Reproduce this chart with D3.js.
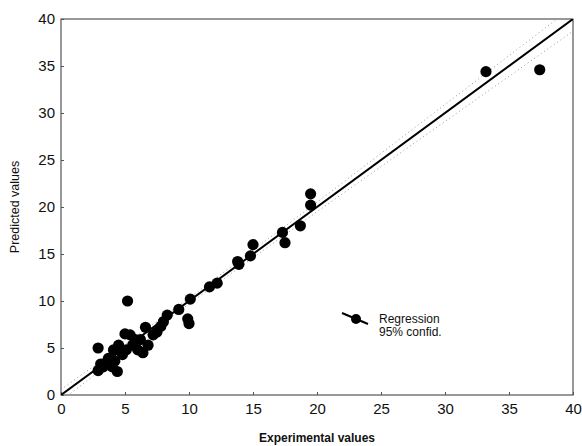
<!DOCTYPE html>
<html>
<head>
<meta charset="utf-8">
<script src="https://cdn.jsdelivr.net/npm/d3@7"></script>
<style>
  body { margin: 0; background: #fff; }
  svg { display: block; font-family: "Liberation Sans", Arial, sans-serif; }
</style>
</head>
<body>
<div id="chart"></div>
<script>
// observed vs predicted
var expValues = [33.2, 37.4, 19.5, 19.5, 18.7, 17.3, 17.5, 15.0, 14.8, 13.8, 13.9,
    11.6, 12.2, 10.1, 9.2, 9.9, 10.0, 8.3, 8.0, 7.8, 7.2, 6.6, 7.5,
    5.2, 2.9, 2.9, 3.3, 3.7, 4.0, 4.4, 4.1, 4.5, 4.8, 5.0, 5.4, 5.1,
    5.6, 6.0, 6.2, 6.4, 6.8, 3.6, 4.2, 3.1, 5.8];
var predValues = [34.4, 34.6, 21.4, 20.2, 18.0, 17.3, 16.2, 16.0, 14.8, 14.2, 13.9,
    11.5, 11.9, 10.2, 9.1, 8.1, 7.6, 8.5, 7.8, 7.3, 6.4, 7.2, 6.7,
    10.0, 5.0, 2.6, 3.0, 3.9, 3.0, 2.5, 4.8, 5.3, 4.3, 6.5, 6.4, 4.8,
    5.3, 4.8, 5.9, 4.5, 5.3, 3.5, 3.6, 3.3, 5.9];

// regression line and 95% band
var regIntercept = 0, regSlope = 1;
var bandX = [0, 5, 10, 15, 20, 25, 30, 35, 40];
var bandUpper = [0.6, 5.4, 10.3, 15.4, 20.5, 25.7, 30.9, 36.1, 41.3];
var bandLower = [-0.6, 4.6, 9.7, 14.6, 19.5, 24.3, 29.1, 33.9, 38.7];

var xTicks = [0, 5, 10, 15, 20, 25, 30, 35, 40];
var yTicks = [0, 5, 10, 15, 20, 25, 30, 35, 40];
var legendLabels = ["Regression", "95% confid."];

var width = 582, height = 446;
var margin = {top: 19, right: 9, bottom: 51, left: 61};

var svg = d3.select("#chart").append("svg")
    .attr("width", width)
    .attr("height", height);

var x = d3.scaleLinear().domain([0, 40]).range([margin.left, width - margin.right]);
var y = d3.scaleLinear().domain([0, 40]).range([height - margin.bottom, margin.top]);

svg.append("clipPath").attr("id", "clip")
  .append("rect")
    .attr("x", x(0)).attr("y", y(40))
    .attr("width", x(40) - x(0)).attr("height", y(0) - y(40));

// frame
svg.append("rect")
    .attr("x", x(0)).attr("y", y(40))
    .attr("width", x(40) - x(0)).attr("height", y(0) - y(40))
    .attr("fill", "none")
    .attr("stroke", "#333")
    .attr("stroke-width", 1);

// axes
var xAxis = svg.append("g")
    .attr("transform", "translate(0," + y(0) + ")")
    .call(d3.axisBottom(x).tickValues(xTicks).tickSize(-3).tickPadding(8));
var yAxis = svg.append("g")
    .attr("transform", "translate(" + x(0) + ",0)")
    .call(d3.axisLeft(y).tickValues(yTicks).tickSize(-3).tickPadding(6));
[xAxis, yAxis].forEach(function(a) {
    a.select(".domain").remove();
    a.selectAll("line").attr("stroke", "#555");
    a.selectAll("text")
        .attr("font-size", 15)
        .attr("fill", "#111")
        .style("font-family", "'Liberation Sans', Arial, sans-serif");
});

// titles
svg.append("text")
    .attr("x", (x(0) + x(40)) / 2)
    .attr("y", 442)
    .attr("text-anchor", "middle")
    .attr("font-size", 12)
    .attr("font-weight", "bold")
    .attr("fill", "#111")
    .text("Experimental values");
svg.append("text")
    .attr("transform", "translate(19," + ((y(0) + y(40)) / 2) + ") rotate(-90)")
    .attr("text-anchor", "middle")
    .attr("font-size", 12.5)
    .attr("fill", "#111")
    .text("Predicted values");

var plot = svg.append("g").attr("clip-path", "url(#clip)");

// confidence band
var bandLine = d3.line().x(function(d) { return x(d[0]); }).y(function(d) { return y(d[1]); });
[bandUpper, bandLower].forEach(function(b) {
    plot.append("path")
        .datum(bandX.map(function(v, i) { return [v, b[i]]; }))
        .attr("d", bandLine)
        .attr("fill", "none")
        .attr("stroke", "#999")
        .attr("stroke-width", 1)
        .attr("stroke-dasharray", "1,3");
});

// regression line
plot.append("line")
    .attr("x1", x(0)).attr("y1", y(regIntercept))
    .attr("x2", x(40)).attr("y2", y(regIntercept + regSlope * 40))
    .attr("stroke", "#000")
    .attr("stroke-width", 2);

// points
plot.selectAll("circle.pt")
    .data(expValues)
    .enter().append("circle")
    .attr("class", "pt")
    .attr("cx", function(d) { return x(d); })
    .attr("cy", function(d, i) { return y(predValues[i]); })
    .attr("r", 5.6)
    .attr("fill", "#000");

// legend
var lg = svg.append("g").attr("transform", "translate(342,313)");
lg.append("line")
    .attr("x1", 0).attr("y1", 0).attr("x2", 26).attr("y2", 11)
    .attr("stroke", "#000").attr("stroke-width", 2);
lg.append("circle")
    .attr("cx", 14).attr("cy", 6).attr("r", 5)
    .attr("fill", "#000");
lg.selectAll("text.lg")
    .data(legendLabels)
    .enter().append("text")
    .attr("class", "lg")
    .attr("x", 37)
    .attr("y", function(d, i) { return 10 + i * 13; })
    .attr("font-size", 12)
    .attr("fill", "#111")
    .text(function(d) { return d; });
</script>
</body>
</html>
